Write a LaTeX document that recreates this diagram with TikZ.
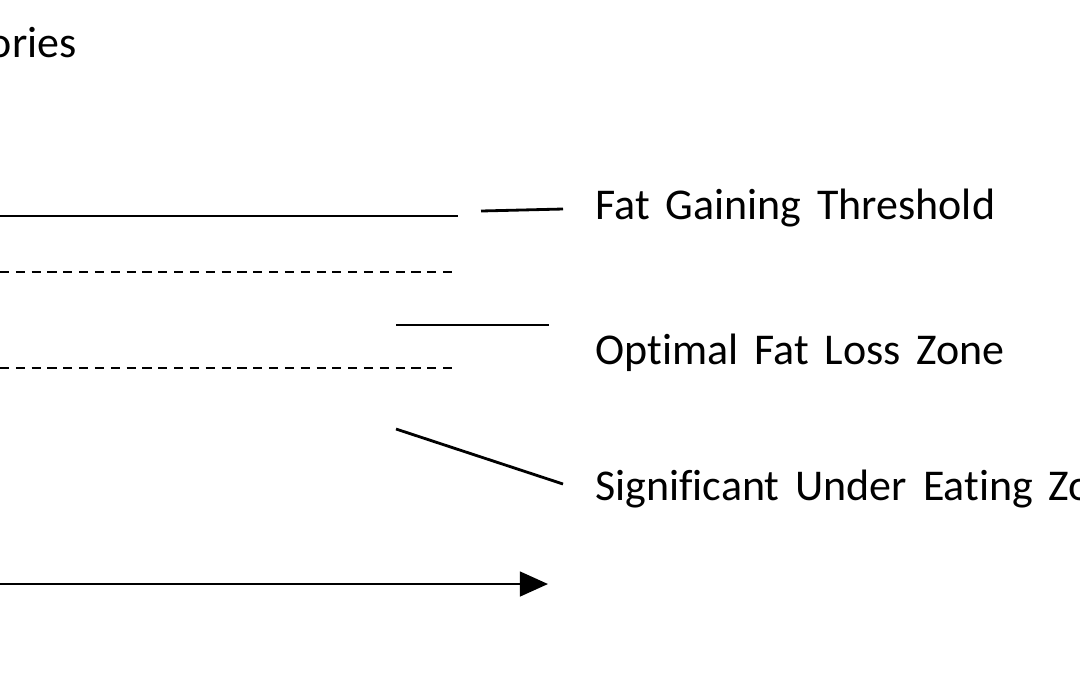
\documentclass[tikz,border=0pt]{standalone}
\usepackage{fontspec}
\setmainfont[WordSpace=1.6,Ligatures=NoCommon]{Carlito}
\usetikzlibrary{arrows.meta}
\begin{document}
\begin{tikzpicture}[x=0.01cm,y=-0.01cm,line width=0.8pt]
% Styles
\tikzset{label text/.style={anchor=west,inner sep=0pt,font=\fontsize{12.5}{14}\selectfont},
         zone line/.style={dash pattern=on 2.6pt off 1.9pt}}
\useasboundingbox (0,0) rectangle (1080,675);
\clip (0,0) rectangle (1080,675);

% axis title
\node[label text,anchor=east] (ytitle) at (78,42) {Calories};

% the lines
\coordinate (gainL) at (0,216);  \coordinate (gainR) at (458,216);
\coordinate (dashaL) at (0,272); \coordinate (dashaR) at (452,272);
\coordinate (dashbL) at (0,368); \coordinate (dashbR) at (458,368);
\draw (gainL) -- (gainR);
\draw[zone line] (dashaL) -- (dashaR);
\draw[zone line] (dashbL) -- (dashbR);

% labels
\node[label text] (gain) at (594,208) {Fat Gaining Threshold};
\node[label text] (loss) at (594,353) {Optimal Fat Loss Zone};
\node[label text] (under) at (594,489) {Significant Under Eating Zone};

% pointers
\coordinate (pa) at (481,211); \coordinate (pb) at (563,209);
\coordinate (pc) at (396,325); \coordinate (pd) at (549,325);
\coordinate (pe) at (396,429); \coordinate (pf) at (563,484);
\draw (pa) -- (pb);
\draw (pc) -- (pd);
\draw (pe) -- (pf);

% time axis
\coordinate (axL) at (0,584); \coordinate (axR) at (548,584);
\draw[-{Triangle[length=8pt,width=7pt]}] (axL) -- (axR);
\end{tikzpicture}
\end{document}
